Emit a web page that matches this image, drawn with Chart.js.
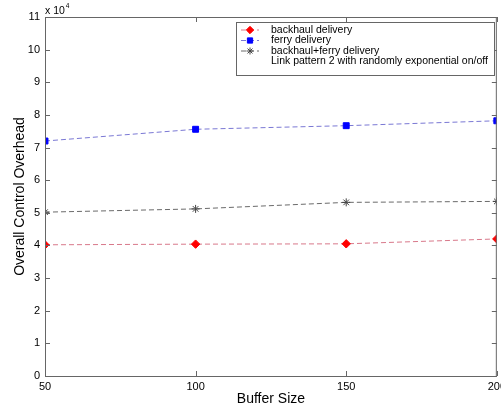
<!DOCTYPE html>
<html>
<head>
<meta charset="utf-8">
<script src="https://cdn.jsdelivr.net/npm/chart.js@4"></script>
<style>
  html, body { margin:0; padding:0; background:#fff; overflow:hidden; }
  #wrap { position:relative; width:510px; height:414px; }
</style>
</head>
<body>
<div id="wrap"><canvas id="c"></canvas></div>
<script>
// buffer sizes on the x axis
const bufferSizes = [50, 100, 150, 200];
// overall control overhead, in units of 10^4
const backhaul = [4.02, 4.04, 4.05, 4.20];
const ferry = [7.20, 7.56, 7.67, 7.82];
const combined = [5.02, 5.12, 5.32, 5.35];
const xTicks = [50, 100, 150, 200];
const yTicks = [0, 1, 2, 3, 4, 5, 6, 7, 8, 9, 10, 11];
const legendLabels = ['backhaul delivery', 'ferry delivery', 'backhaul+ferry delivery',
  'Link pattern 2 with randomly exponential on/off'];

const FONT = '"Liberation Sans", Arial, sans-serif';
const AXIS = '#666666';

const pts = arr => bufferSizes.map((x, i) => ({x, y: arr[i]}));

const series = [
  {label: legendLabels[0], data: pts(backhaul), borderColor: '#d8788a', pointStyle: 'rectRot',
   pointRadius: 4.2, pointBackgroundColor: '#ff0000', pointBorderColor: '#ff0000'},
  {label: legendLabels[1], data: pts(ferry), borderColor: '#7a78d4', pointStyle: 'rect',
   pointRadius: 4.2, pointBackgroundColor: '#0000ff', pointBorderColor: '#0000ff'},
  {label: legendLabels[2], data: pts(combined), borderColor: '#6a6a6a', pointStyle: 'star',
   pointRadius: 4, pointBackgroundColor: '#444', pointBorderColor: '#444'},
].map(d => Object.assign({borderWidth: 1, borderDash: [5, 3], pointBorderWidth: 1,
  fill: false, tension: 0}, d));

// MATLAB style box with inward ticks, the x10^4 exponent and the legend
const matlabFrame = {
  id: 'matlabFrame',
  afterDatasetsDraw(chart) {
    const {ctx, chartArea: a, scales: {x, y}} = chart;
    ctx.save();
    ctx.strokeStyle = AXIS;
    ctx.lineWidth = 1;
    ctx.strokeRect(a.left + 0.5, a.top + 0.5, a.right - a.left - 1, a.bottom - a.top);
    ctx.beginPath();
    const tl = 5;
    xTicks.forEach(v => {
      const px = Math.round(x.getPixelForValue(v)) + 0.5;
      ctx.moveTo(px, a.bottom); ctx.lineTo(px, a.bottom - tl);
      ctx.moveTo(px, a.top); ctx.lineTo(px, a.top + tl);
    });
    yTicks.forEach(v => {
      const py = Math.round(y.getPixelForValue(v)) + 0.5;
      ctx.moveTo(a.left, py); ctx.lineTo(a.left + tl, py);
      ctx.moveTo(a.right, py); ctx.lineTo(a.right - tl, py);
    });
    ctx.stroke();

    // exponent
    ctx.fillStyle = '#000';
    ctx.textBaseline = 'alphabetic';
    ctx.font = '10.5px ' + FONT;
    ctx.fillText('x 10', a.left, a.top - 3);
    const w = ctx.measureText('x 10').width;
    ctx.font = '6.5px ' + FONT;
    ctx.fillText('4', a.left + w + 1, a.top - 9);

    // legend
    const lx = 236, ly = 22, lw = 258, lh = 53;
    ctx.fillStyle = '#fff';
    ctx.fillRect(lx, ly, lw, lh);
    ctx.strokeStyle = AXIS;
    ctx.strokeRect(lx + 0.5, ly + 0.5, lw, lh);
    ctx.font = '10.5px ' + FONT;
    ctx.textBaseline = 'middle';
    const rows = [29.5, 40, 50.5, 61];
    legendLabels.forEach((t, i) => {
      const ry = rows[i];
      const ds = series[i];
      if (ds) {
        ctx.save();
        ctx.strokeStyle = ds.borderColor;
        ctx.setLineDash([5, 3]);
        ctx.beginPath();
        ctx.moveTo(241, ry + 0.5); ctx.lineTo(259, ry + 0.5);
        ctx.stroke();
        ctx.setLineDash([]);
        ctx.fillStyle = ds.pointBackgroundColor;
        ctx.strokeStyle = ds.pointBorderColor;
        Chart.helpers.drawPoint(ctx, {pointStyle: ds.pointStyle, radius: ds.pointRadius - 0.5,
          borderWidth: 1, rotation: 0}, 250, ry + 0.5);
        ctx.restore();
      }
      ctx.fillStyle = '#000';
      ctx.fillText(t, 271, ry + 0.5);
    });
    ctx.restore();
  }
};

new Chart(document.getElementById('c'), {
  type: 'line',
  data: {datasets: series},
  options: {
    responsive: true, maintainAspectRatio: false, animation: false,
    layout: {autoPadding: false, padding: {top: 17, right: 10, left: 0, bottom: 0}},
    plugins: {legend: {display: false}, tooltip: {enabled: false}},
    scales: {
      x: {
        type: 'linear', min: 50, max: 200,
        afterBuildTicks: s => { s.ticks = xTicks.map(v => ({value: v})); },
        afterFit: s => { s.height = 38; },
        grid: {display: false, drawTicks: false}, border: {display: false},
        ticks: {padding: 4, color: '#000', font: {family: FONT, size: 11}, maxRotation: 0},
        title: {display: true, text: 'Buffer Size', color: '#000',
          font: {family: FONT, size: 14}, padding: {bottom: 6, top: 0}}
      },
      y: {
        min: 0, max: 11,
        afterBuildTicks: s => { s.ticks = yTicks.map(v => ({value: v})); },
        afterFit: s => { s.width = 45; },
        grid: {display: false, drawTicks: false}, border: {display: false},
        ticks: {padding: 5, color: '#000', font: {family: FONT, size: 11}},
        title: {display: true, text: 'Overall Control Overhead', color: '#000',
          font: {family: FONT, size: 14}, padding: {top: 12, bottom: 0}}
      }
    }
  },
  plugins: [matlabFrame]
});
</script>
</body>
</html>
